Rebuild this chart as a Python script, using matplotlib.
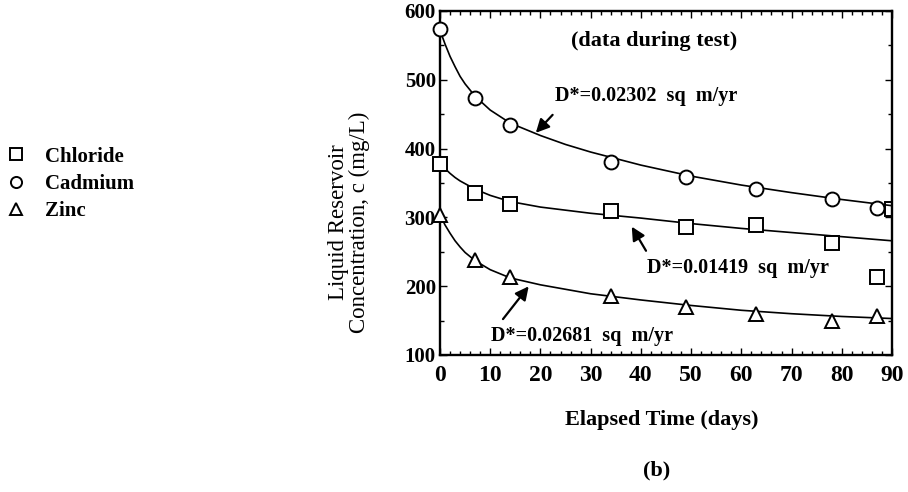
import matplotlib
matplotlib.use("Agg")
import matplotlib.pyplot as plt
from matplotlib.ticker import MultipleLocator
from matplotlib.lines import Line2D

plt.rcParams['font.family'] = ['Liberation Serif', 'DejaVu Serif']

# measured data points
t_pts = [0, 7, 14, 34, 49, 63, 78, 87]
cadmium = [574, 473, 434, 380, 358, 341, 327, 313]
chloride = [378, 335, 319, 310, 286, 289, 263, 213]
zinc = [304, 238, 213, 186, 170, 159, 149, 157]
extra_t = [90]          # square partly hidden by the right frame
extra_c = [312]

# fitted curves
cd_t = [0, 1, 2, 3, 4, 5, 7, 10, 14, 20, 25, 30, 40, 50, 60, 70, 80, 90]
cd_c = [572, 552, 534, 519, 505, 494, 476, 456, 437, 419, 406, 395, 376, 360, 347, 336, 326, 317]
cl_t = [0, 1, 2, 3, 4, 5, 7, 10, 14, 20, 30, 40, 50, 60, 70, 80, 90]
cl_c = [378, 371, 364, 358, 353, 349, 341, 332, 323, 315, 306, 299, 291, 284, 278, 272, 266]
zn_t = [0, 1, 2, 3, 4, 5, 7, 10, 14, 20, 30, 40, 50, 60, 70, 80, 90]
zn_c = [304, 289, 277, 266, 257, 249, 237, 224, 212, 202, 189, 180, 172, 165, 160, 156, 153]

legend_labels = ["Chloride", "Cadmium", "Zinc"]

fig = plt.figure(figsize=(9.08, 4.92), dpi=100)
ax = fig.add_axes([440/908, 1 - 355/492, 452/908, 344/492])

for tt, cc in [(cd_t, cd_c), (cl_t, cl_c), (zn_t, zn_c)]:
    ax.plot(tt, cc, color='black', lw=1.2, zorder=2)

mk = dict(ls='none', mfc='white', mec='black', mew=1.4, ms=10, zorder=3, clip_on=False)
ax.plot(t_pts, cadmium, marker='o', **mk)
ax.plot(t_pts, chloride, marker='s', **mk)
ax.plot(t_pts, zinc, marker='^', **mk)
ax.plot(extra_t, extra_c, marker='s', ls='none', mfc='white', mec='black', mew=1.4, ms=10,
        zorder=1, clip_on=True)

ax.set_xlim(0, 90)
ax.set_ylim(100, 600)
ax.xaxis.set_major_locator(MultipleLocator(10))
ax.xaxis.set_minor_locator(MultipleLocator(2))
ax.yaxis.set_major_locator(MultipleLocator(100))
ax.yaxis.set_minor_locator(MultipleLocator(50))
ax.tick_params(which='both', direction='in', top=True, right=True, width=1.0)
ax.tick_params(which='major', length=5, pad=4)
ax.tick_params(which='minor', length=3)
ax.tick_params(axis='x', which='major', labelsize=17, pad=7)
ax.tick_params(axis='y', which='major', labelsize=15, pad=3)
for lab in ax.get_xticklabels() + ax.get_yticklabels():
    lab.set_fontweight('bold')
for s in ax.spines.values():
    s.set_linewidth(1.7)

tf = dict(fontsize=14.5, fontweight='bold')
ap = dict(arrowstyle='-|>', color='black', lw=1.6, mutation_scale=20)
ax.text(42.7, 557, "(data during test)", ha='center', va='center', fontsize=16, fontweight='bold')
ax.text(22.8, 477, "D*=0.02302  sq  m/yr", ha='left', va='center', **tf)
ax.annotate("", xy=(18.7, 420), xytext=(22.8, 452), arrowprops=ap)
ax.text(41.3, 227, "D*=0.01419  sq  m/yr", ha='left', va='center', **tf)
ax.annotate("", xy=(37.9, 290), xytext=(41.3, 248), arrowprops=ap)
ax.text(10.1, 128, "D*=0.02681  sq  m/yr", ha='left', va='center', **tf)
ax.annotate("", xy=(18.0, 203), xytext=(12.2, 149), arrowprops=ap)

fig.text(662/908, 1 - 420/492, "Elapsed Time (days)", ha='center', va='center', fontsize=16,
         fontweight='bold')
fig.text(657/908, 1 - 470/492, "(b)", ha='center', va='center', fontsize=16, fontweight='bold')
fig.text(349/908, 1 - 222/492, "Liquid Reservoir\nConcentration, c (mg/L)", ha='center', va='center',
         rotation=90, fontsize=16.5, linespacing=1.05)

handles = [Line2D([], [], marker=m, ls='none', mfc='white', mec='black', mew=1.4, ms=ms)
           for m, ms in [('s', 8), ('o', 8), ('^', 8)]]
leg = fig.legend(handles, legend_labels, loc='upper left', bbox_to_anchor=(-0.015, 1 - 128/492),
                 frameon=False, fontsize=15, handletextpad=0.9, labelspacing=0.35,
                 handlelength=1.0)
for txt in leg.get_texts():
    txt.set_fontweight('bold')

fig.savefig("out.png", dpi=100)
